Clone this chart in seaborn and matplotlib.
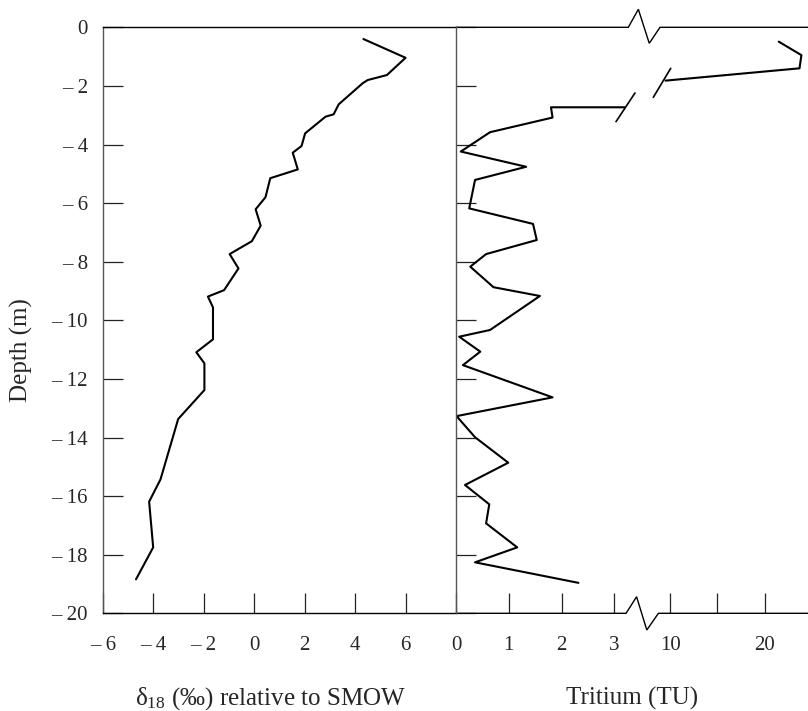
import numpy as np
import pandas as pd
import matplotlib
matplotlib.use("Agg")
import matplotlib.pyplot as plt
import seaborn as sns

# ---------------- data ----------------
depth_o18 = [-0.40, -1.04, -1.63, -1.80, -1.91, -2.63, -2.97, -3.05, -3.62, -4.05,
             -4.28, -4.85, -5.15, -5.80, -6.21, -6.77, -7.30, -7.74, -8.23, -8.97,
             -9.19, -9.56, -10.65, -11.09, -11.47, -12.38, -13.37, -15.43, -16.19,
             -17.75, -18.84]
d18o = [4.33, 6.00, 5.26, 4.50, 4.30, 3.35, 3.15, 2.83, 2.02, 1.88,
        1.53, 1.73, 0.64, 0.45, 0.06, 0.26, -0.09, -0.97, -0.62, -1.19,
        -1.83, -1.63, -1.63, -2.29, -1.97, -1.97, -3.01, -3.71, -4.16,
        -4.00, -4.68]

# tritium: near-surface part (beyond the axis break) and the rest
depth_trit_hi = [-0.49, -0.95, -1.40, -1.82]
trit_hi = [21.5, 23.9, 23.7, 9.5]
depth_trit_lo = [-2.73, -2.73, -3.08, -3.58, -4.24, -4.76, -5.21, -6.18, -6.71, -7.26,
                 -7.74, -8.17, -8.87, -9.17, -10.33, -10.56, -11.07, -11.53, -12.63, -13.27,
                 -13.99, -14.86, -15.62, -16.28, -16.93, -17.75, -18.26, -18.96]
trit_lo = [3.20, 1.80, 1.83, 0.645, 0.09, 1.33, 0.36, 0.25, 1.46, 1.53,
           0.57, 0.27, 0.71, 1.59, 0.645, 0.06, 0.46, 0.13, 1.83, 0.01,
           0.36, 0.99, 0.17, 0.63, 0.57, 1.16, 0.36, 2.32]

depth_ticks = list(range(0, -21, -2))
o18_ticks = [-6, -4, -2, 0, 2, 4, 6]
trit_ticks = [0, 1, 2, 3, 10, 15, 20]
trit_ticklabels = ["0", "1", "2", "3", "10", "", "20"]


def lab(v):
    return "\u2013 " + str(abs(v)) if v < 0 else str(v)


df_o18 = pd.DataFrame({"d18o": d18o, "depth": depth_o18})
df_trit = pd.DataFrame({
    "tritium": trit_hi + trit_lo,
    "depth": depth_trit_hi + depth_trit_lo,
    "segment": ["hi"] * len(trit_hi) + ["lo"] * len(trit_lo),
})

# ---------------- style ----------------
sns.set_theme(style="ticks")
plt.rcParams["font.family"] = ["Liberation Serif", "DejaVu Serif"]
plt.rcParams["mathtext.fontset"] = "stix"

fig = plt.figure(figsize=(8.08, 7.11), dpi=100)
ax1 = fig.add_axes([0.1271, 0.1374, 0.4373, 0.8242])
ax2 = fig.add_axes([0.5644, 0.1374, 0.4356, 0.8242])

LW = 1.5
TICKFS = 15
LABFS = 18

# ---------------- left panel: delta 18O ----------------
sns.lineplot(data=df_o18, x="d18o", y="depth", sort=False, estimator=None,
             color="black", lw=LW, ax=ax1)
ax1.set_xlim(-6, 8)
ax1.set_ylim(-20, 0)
ax1.set_xticks(o18_ticks)
ax1.set_xticklabels([lab(v) for v in o18_ticks])
ax1.set_yticks(depth_ticks)
ax1.set_yticklabels([lab(v) for v in depth_ticks])
ax1.tick_params(axis="both", direction="in", length=14.4, width=0.9, color="#222",
                labelsize=TICKFS)
ax1.tick_params(axis="x", pad=16.5)
ax1.tick_params(axis="y", pad=10.5)
ax1.spines["right"].set_visible(False)
for s in ["left", "top", "bottom"]:
    ax1.spines[s].set_linewidth(1.0)
ax1.spines["left"].set_color("#555")
ax1.spines["top"].set_color("black")
ax1.spines["bottom"].set_color("black")
ax1.set_xlabel(r"$\mathregular{\delta_{18}}$ (‰) relative to SMOW", fontsize=LABFS)
ax1.xaxis.label.set_va("baseline")
ax1.xaxis.set_label_coords(0.476, -0.155)
ax1.set_ylabel("Depth (m)", fontsize=LABFS)
ax1.yaxis.set_label_coords(-0.197, 0.449)

# ---------------- right panel: tritium with broken axis ----------------
sns.lineplot(data=df_trit, x="tritium", y="depth", units="segment", estimator=None,
             sort=False, color="black", lw=LW, ax=ax2)

B0, B1, K, C = 3.3, 8.0, 0.1789, 4.061
HI0 = C + (B1 - 10) * K


def fwd(x):
    x = np.asarray(x, dtype=float)
    return np.where(x <= B0, x,
                    np.where(x >= B1, C + (x - 10) * K,
                             B0 + (x - B0) * (HI0 - B0) / (B1 - B0)))


def inv(y):
    y = np.asarray(y, dtype=float)
    return np.where(y <= B0, y,
                    np.where(y >= HI0, 10 + (y - C) / K,
                             B0 + (y - B0) * (B1 - B0) / (HI0 - B0)))


ax2.set_xscale("function", functions=(fwd, inv))
ax2.set_xlim(0, 24.6)
ax2.set_ylim(-20, 0)
ax2.set_xticks(trit_ticks)
ax2.set_xticklabels(trit_ticklabels)
ax2.set_yticks(depth_ticks)
ax2.tick_params(axis="y", labelleft=False)
ax2.tick_params(axis="both", direction="in", length=14.4, width=0.9, color="#222",
                labelsize=TICKFS)
ax2.tick_params(axis="x", pad=16.5)
ax2.minorticks_off()
for s in ["right", "top", "bottom"]:
    ax2.spines[s].set_visible(False)
ax2.spines["left"].set_linewidth(1.0)
ax2.spines["left"].set_color("#555")
ax2.set_xlabel("Tritium (TU)", fontsize=LABFS)
ax2.xaxis.label.set_va("baseline")
ax2.xaxis.set_label_coords(0.5, -0.155)
ax2.set_ylabel("")

# manual top / bottom axis lines with zig-zag break marks
kw = dict(transform=ax2.transAxes, clip_on=False, color="black", lw=1.0,
          solid_joinstyle="miter")
ax2.plot([0, 0.4895, 0.518, 0.549, 0.5795, 1.0],
         [1, 1, 1.0307, 0.9727, 1, 1], **kw)
ax2.plot([0, 0.483, 0.513, 0.542, 0.575, 1.0],
         [0, 0, 0.0283, -0.0285, 0, 0], **kw)
# slashes on the tritium line where it crosses the break
kw2 = dict(transform=ax2.transAxes, clip_on=False, color="black", lw=1.2)
ax2.plot([0.4545, 0.5085], [0.839, 0.888], **kw2)
ax2.plot([0.5605, 0.6099], [0.8805, 0.930], **kw2)

fig.savefig("out.png", dpi=100)
